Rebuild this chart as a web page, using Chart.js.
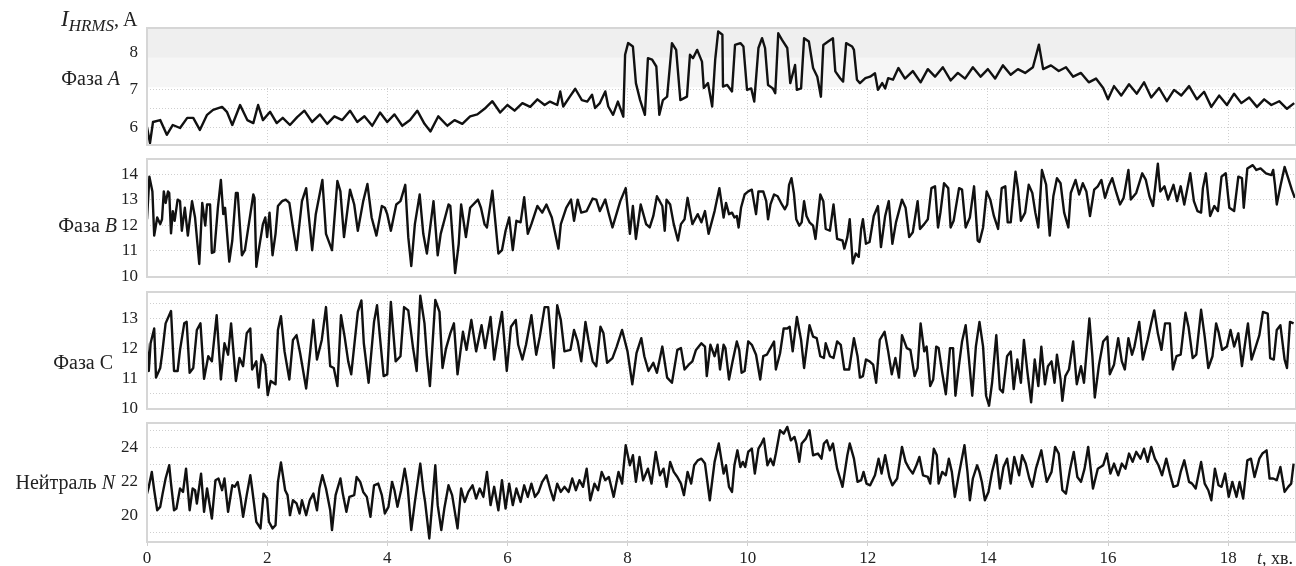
<!DOCTYPE html>
<html>
<head>
<meta charset="utf-8">
<script src="https://cdn.jsdelivr.net/npm/chart.js@4"></script>
<style>
  body { margin: 0; background: #fff; width: 1296px; height: 566px; overflow: hidden; position: relative; font-family: "Liberation Serif", serif; color: #222; }
  canvas { position: absolute; left: 0; }
  .lbl { position: absolute; font-size: 20px; line-height: 20px; white-space: nowrap; text-align: right; }
  i { font-style: italic; }
</style>
</head>
<body>
<canvas id="panelA" width="1296" height="137" style="top:18px"></canvas>
<canvas id="panelB" width="1296" height="138" style="top:149px"></canvas>
<canvas id="panelC" width="1296" height="137" style="top:282px"></canvas>
<canvas id="panelN" width="1296" height="154" style="top:413px"></canvas>

<div class="lbl" style="left:61px;top:9px;text-align:left;font-size:20px"><i style="font-size:23px">I</i><sub style="font-size:17px"><i>HRMS</i></sub>, A</div>
<div class="lbl" style="right:1176px;top:68px">Фаза <i>A</i></div>
<div class="lbl" style="right:1179px;top:215px">Фаза <i>B</i></div>
<div class="lbl" style="right:1183px;top:352px">Фаза С</div>
<div class="lbl" style="right:1181px;top:472px">Нейтраль <i>N</i></div>
<div class="lbl" style="left:1257px;top:548px;text-align:left;font-size:18px"><i>t</i>, хв.</div>

<script>
// time, min
const xTicks = [0, 2, 4, 6, 8, 10, 12, 14, 16, 18];

// Фаза A
const tA = [0,0.05,0.10,0.22,0.33,0.43,0.55,0.67,0.77,0.88,1.0,1.10,1.25,1.33,1.42,1.55,1.67,1.77,1.85,1.93,2.05,2.16,2.26,2.38,2.50,2.62,2.75,2.88,3.0,3.12,3.25,3.38,3.5,3.62,3.75,3.88,4.0,4.12,4.25,4.38,4.5,4.62,4.72,4.85,5.0,5.12,5.25,5.38,5.5,5.62,5.75,5.88,6.0,6.12,6.25,6.38,6.5,6.62,6.71,6.83,6.88,6.93,7.04,7.13,7.24,7.33,7.41,7.46,7.54,7.63,7.68,7.76,7.84,7.93,7.96,8.01,8.09,8.14,8.21,8.29,8.34,8.41,8.48,8.53,8.59,8.66,8.74,8.81,8.88,8.99,9.04,9.09,9.16,9.24,9.27,9.34,9.41,9.46,9.51,9.58,9.59,9.66,9.74,9.79,9.88,9.93,9.99,10.06,10.11,10.18,10.24,10.29,10.34,10.42,10.46,10.51,10.57,10.66,10.71,10.79,10.82,10.89,10.94,11.02,11.09,11.16,11.22,11.26,11.34,11.42,11.46,11.54,11.59,11.64,11.74,11.77,11.82,11.87,11.96,12.04,12.12,12.17,12.24,12.29,12.34,12.42,12.51,12.62,12.75,12.88,13.0,13.12,13.25,13.38,13.5,13.62,13.75,13.88,14.0,14.12,14.25,14.38,14.5,14.62,14.75,14.85,14.92,15.05,15.18,15.3,15.42,15.55,15.68,15.8,15.92,16.0,16.1,16.22,16.35,16.48,16.6,16.72,16.85,16.98,17.1,17.22,17.35,17.48,17.6,17.72,17.85,17.98,18.1,18.22,18.35,18.48,18.6,18.72,18.85,18.98,19.1];
const vA = [6.02,5.59,6.15,6.20,5.81,6.07,5.99,6.26,6.26,5.94,6.34,6.47,6.55,6.42,6.07,6.60,6.20,6.12,6.60,6.20,6.42,6.12,6.26,6.07,6.28,6.45,6.15,6.35,6.10,6.30,6.20,6.45,6.15,6.30,6.05,6.40,6.15,6.35,6.05,6.20,6.45,6.10,5.90,6.30,6.05,6.20,6.10,6.30,6.35,6.50,6.70,6.40,6.60,6.45,6.65,6.55,6.75,6.60,6.69,6.60,6.96,6.56,6.82,7.03,6.73,6.69,6.87,6.52,6.65,6.96,6.56,6.34,6.69,6.29,7.93,8.24,8.15,7.18,6.73,6.34,7.84,7.80,7.62,6.34,6.73,6.82,8.24,8.06,6.73,6.82,7.93,7.84,8.06,7.75,7.05,7.18,6.56,7.80,8.55,8.46,7.09,7.13,6.96,8.19,8.24,8.15,7.00,7.04,6.69,8.11,8.37,8.11,7.13,7.04,6.91,8.50,8.33,8.11,7.18,7.66,7.00,7.04,8.37,8.28,7.58,7.35,6.82,8.19,8.28,8.37,7.49,7.31,7.22,8.24,8.15,8.06,7.27,7.18,7.31,7.35,7.44,7.00,7.18,7.04,7.31,7.27,7.58,7.30,7.50,7.20,7.55,7.35,7.60,7.25,7.45,7.30,7.60,7.35,7.55,7.30,7.65,7.40,7.55,7.45,7.60,8.20,7.55,7.65,7.50,7.60,7.35,7.45,7.20,7.30,7.05,6.75,7.10,6.85,7.15,6.90,7.20,6.80,7.05,6.70,7.00,6.85,7.10,6.75,6.95,6.55,6.85,6.60,6.90,6.65,6.80,6.55,6.75,6.60,6.70,6.50,6.65];

// Фаза B
const tB = [0,0.04,0.09,0.12,0.17,0.22,0.25,0.28,0.31,0.35,0.37,0.40,0.43,0.46,0.51,0.55,0.58,0.63,0.68,0.75,0.80,0.87,0.92,0.97,1.00,1.05,1.08,1.12,1.18,1.23,1.27,1.30,1.37,1.42,1.48,1.51,1.58,1.63,1.77,1.79,1.82,1.86,1.93,1.97,2.00,2.04,2.09,2.14,2.18,2.25,2.31,2.37,2.43,2.49,2.58,2.65,2.68,2.75,2.81,2.92,2.98,3.08,3.17,3.22,3.28,3.38,3.45,3.51,3.60,3.67,3.74,3.82,3.91,3.96,4.00,4.06,4.15,4.22,4.30,4.35,4.40,4.46,4.54,4.60,4.66,4.77,4.84,4.89,5.02,5.05,5.13,5.19,5.23,5.31,5.38,5.51,5.56,5.62,5.66,5.75,5.85,5.91,5.97,6.03,6.09,6.15,6.22,6.28,6.34,6.40,6.50,6.58,6.65,6.74,6.85,6.89,6.98,7.06,7.11,7.17,7.23,7.32,7.42,7.48,7.54,7.63,7.69,7.75,7.88,7.97,8.04,8.09,8.14,8.22,8.31,8.37,8.43,8.49,8.58,8.62,8.65,8.71,8.77,8.84,8.89,8.95,9.00,9.08,9.17,9.23,9.29,9.35,9.45,9.53,9.60,9.64,9.69,9.74,9.78,9.82,9.85,9.89,9.95,10.01,10.07,10.14,10.18,10.26,10.31,10.34,10.38,10.44,10.50,10.57,10.62,10.66,10.69,10.73,10.77,10.81,10.86,10.90,10.94,10.98,11.03,11.09,11.13,11.21,11.26,11.30,11.37,11.43,11.49,11.58,11.61,11.66,11.70,11.75,11.80,11.85,11.89,11.92,11.97,12.03,12.10,12.17,12.22,12.29,12.35,12.41,12.47,12.57,12.63,12.69,12.75,12.83,12.87,12.94,13.00,13.06,13.12,13.17,13.21,13.27,13.34,13.38,13.43,13.52,13.57,13.63,13.70,13.77,13.83,13.86,13.92,13.98,14.04,14.10,14.17,14.23,14.29,14.33,14.38,14.46,14.50,14.55,14.62,14.68,14.74,14.79,14.84,14.90,14.97,15.03,15.09,15.15,15.21,15.27,15.34,15.38,15.46,15.52,15.58,15.64,15.70,15.77,15.83,15.89,15.95,16.01,16.07,16.14,16.20,16.26,16.34,16.38,16.47,16.57,16.63,16.69,16.75,16.83,16.87,16.94,17.00,17.09,17.15,17.21,17.27,17.37,17.43,17.49,17.55,17.58,17.63,17.70,17.77,17.83,17.89,17.96,18.02,18.10,18.17,18.23,18.26,18.32,18.41,18.47,18.54,18.63,18.72,18.75,18.78,18.81,18.87,18.94,19.00,19.06,19.11];
const vB = [12.24,13.91,13.33,11.60,12.31,12.05,12.24,13.33,12.88,13.33,13.27,11.69,12.56,12.18,13.01,12.95,11.79,12.69,11.60,12.95,12.31,10.49,12.88,11.99,12.82,12.82,10.92,10.96,12.69,13.78,12.44,12.69,10.58,11.41,13.27,13.27,10.83,11.03,13.21,13.08,10.38,11.03,12.05,12.31,11.54,12.50,10.83,11.67,12.76,12.95,13.01,12.88,11.92,11.03,12.95,13.46,12.69,11.03,12.44,13.78,11.67,11.03,13.74,13.33,11.54,13.40,12.82,11.79,12.95,13.62,12.31,11.60,12.76,12.69,12.44,11.79,12.82,12.95,13.59,11.54,10.41,12.05,13.21,11.67,10.90,12.95,10.83,11.67,12.82,12.76,10.13,11.28,12.82,11.54,12.69,13.01,12.69,12.05,11.92,13.36,10.90,11.03,11.79,12.31,11.03,12.18,12.12,13.10,11.67,12.05,12.76,12.50,12.82,12.31,11.09,12.05,12.69,13.01,12.18,13.01,12.50,12.56,13.05,13.01,12.56,13.01,12.44,11.92,12.95,13.46,11.67,12.76,11.47,12.82,12.05,11.92,12.37,13.14,12.76,11.79,13.01,12.82,12.05,11.41,12.05,12.24,13.08,12.05,12.44,12.12,12.56,11.67,12.56,13.46,12.31,12.88,12.44,12.50,12.31,12.37,11.92,12.69,13.21,13.33,13.40,12.44,13.33,13.33,12.95,12.24,12.82,13.21,13.14,12.82,12.63,12.82,13.59,13.85,13.27,12.24,11.99,12.12,12.95,12.37,12.12,11.99,11.47,13.21,12.95,11.86,11.79,12.82,11.47,11.41,11.09,11.54,12.24,10.51,10.90,10.77,11.86,12.24,11.28,11.35,12.37,12.76,11.15,12.37,12.95,11.28,12.12,13.01,12.69,11.54,11.73,12.95,11.86,12.05,12.24,13.46,13.53,11.92,12.50,13.65,13.46,11.92,12.18,13.46,13.40,11.92,12.31,13.53,11.41,11.35,11.92,13.33,13.01,12.37,11.86,13.46,13.53,12.12,12.12,14.10,13.46,12.18,12.50,13.59,13.27,12.50,11.92,14.17,13.59,11.60,13.14,13.85,13.65,12.50,11.92,13.27,13.78,13.21,13.65,13.33,12.37,13.40,13.53,13.78,13.08,13.53,13.85,13.27,12.82,13.08,14.17,13.01,13.27,14.04,13.78,13.14,12.76,14.42,13.33,13.53,13.01,13.59,12.95,13.53,12.82,14.04,12.95,12.56,12.50,13.46,14.04,12.37,12.76,12.56,13.91,14.04,12.69,12.56,13.91,13.85,12.69,14.23,14.36,14.17,14.23,14.04,13.97,14.17,13.59,12.82,13.53,14.29,13.85,13.40,13.08];

// Фаза C
const tC = [0,0.03,0.06,0.12,0.15,0.22,0.25,0.31,0.40,0.45,0.51,0.55,0.62,0.66,0.71,0.77,0.83,0.89,0.95,1.02,1.08,1.16,1.23,1.29,1.35,1.40,1.48,1.54,1.60,1.66,1.72,1.75,1.82,1.86,1.91,1.97,2.01,2.06,2.14,2.18,2.23,2.29,2.37,2.43,2.49,2.55,2.65,2.72,2.77,2.83,2.91,2.98,3.05,3.11,3.17,3.23,3.29,3.35,3.40,3.51,3.57,3.61,3.69,3.78,3.83,3.88,3.94,4.00,4.06,4.14,4.22,4.28,4.35,4.43,4.49,4.55,4.62,4.66,4.71,4.80,4.87,4.92,4.98,5.05,5.11,5.17,5.26,5.32,5.40,5.48,5.57,5.63,5.72,5.78,5.85,5.91,5.99,6.06,6.14,6.18,6.25,6.31,6.40,6.48,6.54,6.62,6.68,6.77,6.83,6.89,6.95,7.05,7.11,7.17,7.23,7.30,7.35,7.42,7.48,7.55,7.60,7.66,7.75,7.82,7.91,8.00,8.08,8.15,8.23,8.28,8.35,8.43,8.49,8.58,8.66,8.74,8.83,8.89,8.95,9.02,9.08,9.14,9.23,9.29,9.32,9.38,9.45,9.50,9.54,9.60,9.63,9.69,9.75,9.82,9.86,9.90,9.95,10.01,10.07,10.14,10.21,10.26,10.32,10.38,10.44,10.47,10.54,10.60,10.66,10.70,10.75,10.82,10.89,10.94,11.03,11.09,11.15,11.21,11.27,11.30,11.37,11.43,11.49,11.55,11.61,11.69,11.77,11.83,11.87,11.92,11.97,12.03,12.09,12.14,12.20,12.28,12.34,12.40,12.46,12.52,12.57,12.65,12.71,12.78,12.83,12.88,12.94,12.98,13.04,13.09,13.14,13.18,13.24,13.30,13.37,13.42,13.46,13.52,13.57,13.63,13.68,13.74,13.80,13.86,13.92,13.97,14.02,14.07,14.14,14.20,14.25,14.32,14.38,14.43,14.49,14.55,14.60,14.66,14.72,14.78,14.84,14.89,14.95,15.00,15.06,15.11,15.15,15.21,15.24,15.29,15.35,15.42,15.48,15.55,15.60,15.69,15.74,15.78,15.85,15.92,15.99,16.03,16.10,16.17,16.23,16.28,16.34,16.40,16.44,16.52,16.58,16.66,16.72,16.77,16.83,16.89,16.95,17.03,17.08,17.14,17.21,17.29,17.34,17.41,17.47,17.55,17.61,17.67,17.74,17.80,17.84,17.90,17.98,18.04,18.10,18.17,18.23,18.29,18.33,18.39,18.46,18.52,18.58,18.66,18.70,18.76,18.81,18.87,18.94,18.98,19.03,19.09];
const vC = [12.18,11.26,12.18,12.67,11.04,11.36,11.80,12.84,13.25,11.26,11.26,11.96,12.84,12.89,11.20,11.36,12.62,12.84,11.00,11.75,11.58,13.11,10.98,12.18,11.80,12.84,10.93,11.69,11.42,12.51,12.67,11.31,11.58,10.71,11.80,11.47,10.46,10.93,10.82,12.62,13.08,11.91,10.98,12.29,12.45,11.85,10.68,11.96,12.95,11.64,12.29,13.38,11.42,11.36,10.76,13.11,12.40,11.58,11.15,13.22,13.60,12.18,10.87,12.89,13.44,12.35,11.09,11.15,13.55,11.58,11.75,13.38,13.27,12.02,11.26,13.76,12.84,11.75,10.76,13.62,13.22,11.36,12.02,12.51,12.84,11.15,12.56,11.96,12.95,11.91,12.78,12.02,13.05,11.64,12.56,13.22,11.26,12.73,12.95,12.13,11.64,12.13,13.11,11.80,12.40,13.38,13.38,11.36,13.44,12.95,11.91,11.96,12.62,12.24,11.58,12.89,12.29,11.58,11.42,12.73,12.51,11.53,11.69,12.07,12.62,11.91,10.82,11.85,12.35,11.75,11.26,11.53,11.20,12.07,11.04,10.87,11.96,12.02,11.31,11.47,11.58,11.96,12.18,12.07,11.09,12.13,11.75,12.13,11.31,12.13,12.02,10.98,11.58,12.24,11.96,11.20,11.26,12.24,12.13,11.80,10.98,11.75,11.80,12.02,12.24,11.31,11.85,12.67,12.67,12.73,11.91,13.05,12.29,11.36,12.78,12.40,12.35,11.75,11.69,12.18,11.75,11.69,12.24,12.13,11.31,11.31,12.35,11.75,11.04,11.09,11.64,11.58,11.47,10.87,12.29,12.56,11.91,11.15,11.69,11.04,12.45,12.02,11.96,11.09,11.36,12.84,11.91,12.07,10.76,10.98,12.07,12.02,11.20,10.49,12.02,12.02,10.44,11.47,12.24,12.78,11.75,10.44,12.07,12.89,12.07,10.44,10.11,10.87,12.45,10.66,10.55,11.75,11.91,10.66,11.64,10.87,12.29,11.20,10.22,11.64,10.76,12.07,10.82,11.42,11.58,10.87,11.80,10.98,10.27,11.09,11.31,12.24,10.82,11.42,10.87,13.00,11.75,10.38,11.47,12.24,12.40,11.15,11.47,12.35,11.58,11.31,12.35,11.80,12.07,12.89,11.64,12.29,12.84,13.27,12.51,11.96,12.84,12.84,11.31,11.75,11.80,13.19,12.73,11.69,11.80,13.29,12.40,11.36,11.75,12.84,12.56,11.96,12.07,12.62,12.07,12.51,11.42,12.29,12.84,11.64,12.07,12.45,13.22,13.16,11.69,11.64,12.62,12.78,11.64,11.36,12.89,12.84];

// Нейтраль N
const tN = [0,0.03,0.08,0.12,0.17,0.22,0.26,0.31,0.37,0.40,0.45,0.49,0.55,0.60,0.65,0.71,0.76,0.80,0.83,0.90,0.95,1.00,1.08,1.14,1.19,1.25,1.29,1.35,1.42,1.46,1.51,1.56,1.60,1.66,1.72,1.75,1.82,1.89,1.94,2.00,2.03,2.09,2.14,2.18,2.23,2.30,2.34,2.38,2.43,2.49,2.54,2.58,2.65,2.71,2.77,2.83,2.87,2.92,2.98,3.05,3.08,3.14,3.22,3.26,3.32,3.37,3.45,3.49,3.55,3.60,3.66,3.72,3.78,3.85,3.91,3.96,4.02,4.08,4.12,4.17,4.23,4.29,4.34,4.40,4.46,4.55,4.60,4.63,4.70,4.74,4.80,4.84,4.90,4.95,5.02,5.08,5.17,5.23,5.29,5.35,5.42,5.48,5.54,5.60,5.66,5.72,5.78,5.85,5.91,5.97,6.03,6.09,6.15,6.22,6.28,6.34,6.40,6.46,6.52,6.58,6.65,6.71,6.77,6.83,6.89,6.95,7.02,7.08,7.14,7.20,7.26,7.32,7.38,7.45,7.51,7.57,7.63,7.69,7.77,7.85,7.91,7.97,8.04,8.09,8.14,8.20,8.26,8.34,8.40,8.47,8.54,8.60,8.65,8.71,8.77,8.83,8.89,8.94,9.00,9.06,9.11,9.17,9.23,9.29,9.37,9.45,9.52,9.60,9.64,9.69,9.74,9.78,9.83,9.88,9.92,9.96,10.01,10.07,10.12,10.18,10.23,10.27,10.33,10.38,10.43,10.47,10.54,10.60,10.66,10.72,10.78,10.81,10.86,10.90,10.97,11.03,11.09,11.17,11.23,11.27,11.32,11.37,11.42,11.49,11.58,11.66,11.70,11.77,11.83,11.89,11.93,11.98,12.04,12.12,12.18,12.23,12.29,12.36,12.41,12.49,12.57,12.63,12.69,12.75,12.81,12.86,12.92,13.00,13.04,13.10,13.15,13.18,13.24,13.30,13.35,13.40,13.45,13.52,13.61,13.66,13.70,13.75,13.82,13.86,13.90,13.95,14.01,14.07,14.14,14.20,14.26,14.32,14.38,14.44,14.52,14.57,14.63,14.69,14.74,14.80,14.89,14.95,14.98,15.06,15.12,15.18,15.24,15.30,15.37,15.43,15.49,15.55,15.61,15.67,15.75,15.83,15.92,15.98,16.04,16.10,16.17,16.23,16.29,16.35,16.41,16.47,16.54,16.60,16.66,16.72,16.78,16.84,16.90,16.97,17.03,17.09,17.16,17.21,17.27,17.35,17.40,17.46,17.55,17.61,17.67,17.72,17.78,17.84,17.89,17.95,18.01,18.07,18.14,18.19,18.25,18.32,18.38,18.44,18.52,18.57,18.64,18.69,18.75,18.81,18.87,18.94,19.00,19.05,19.09];
const vN = [21.29,21.69,22.57,21.49,20.31,20.51,21.29,22.18,22.96,21.88,20.31,20.41,21.59,21.39,22.76,20.31,21.59,21.49,20.71,22.47,20.22,21.59,19.82,22.08,22.18,21.49,22.18,20.22,21.78,21.69,21.98,21.00,19.92,21.20,22.37,21.59,19.63,19.24,21.29,21.00,19.63,19.24,19.43,21.98,23.12,21.49,21.20,20.02,20.90,20.71,20.12,20.90,20.02,20.90,21.29,20.31,21.59,22.37,21.59,20.31,19.14,21.20,22.18,21.29,20.22,21.10,21.20,22.27,21.98,21.39,21.10,19.92,21.78,21.88,21.20,20.12,20.51,21.98,21.49,20.51,21.49,22.76,21.69,19.14,20.80,23.06,21.49,20.80,18.65,20.31,22.96,20.61,19.14,20.41,21.78,21.20,19.24,21.59,20.80,21.39,21.78,21.00,21.59,21.10,22.57,20.61,21.69,20.31,22.08,20.41,21.88,20.61,21.59,20.80,21.78,21.10,21.88,21.10,21.39,21.98,22.37,21.59,20.90,21.88,21.39,21.69,21.39,22.18,21.49,22.08,21.69,22.76,20.90,21.88,21.49,22.57,22.08,22.27,21.10,22.57,21.88,24.14,22.96,23.55,21.98,23.45,22.08,22.76,21.88,23.75,22.37,22.76,21.69,23.16,22.57,22.27,21.88,21.20,22.57,21.88,22.96,23.25,23.35,23.06,20.90,23.16,24.24,22.47,22.96,21.69,21.39,22.96,23.84,22.86,23.16,22.86,23.75,23.94,22.47,23.94,24.24,24.53,22.96,23.35,22.96,23.65,25.02,24.82,25.22,24.43,24.63,24.24,23.16,24.24,24.53,25.02,23.55,23.65,23.35,24.24,24.43,23.84,24.24,22.76,21.69,23.55,24.24,23.35,21.98,22.08,22.57,21.88,21.78,22.37,23.35,22.47,23.55,22.27,21.78,22.18,24.04,23.16,22.76,22.47,22.96,23.45,22.37,22.27,21.88,23.94,23.55,21.88,22.57,22.37,23.35,22.57,21.10,22.47,24.14,22.57,20.90,22.18,22.96,22.57,21.98,20.90,21.39,22.57,23.55,21.59,22.86,23.35,21.88,23.45,22.37,23.55,23.06,22.18,21.69,22.76,23.84,22.57,21.98,22.57,24.04,23.65,21.49,21.29,22.76,23.75,22.27,21.98,22.76,24.04,21.59,22.76,22.96,23.65,22.47,23.06,22.37,23.06,22.76,23.65,23.16,23.75,23.35,23.94,23.16,24.04,23.35,22.96,22.37,23.35,22.47,21.69,21.78,22.57,23.25,21.98,21.88,21.59,23.16,21.88,21.49,20.90,22.76,21.78,21.69,22.47,21.10,21.98,21.10,21.98,21.00,23.25,23.35,22.27,23.35,23.65,23.84,22.18,22.18,22.08,22.86,21.39,21.69,21.88,23.06];

// y axes: grid values and labelled values
const gridA = [6, 6.5, 7, 7.5, 8, 8.5];
const labelsA = [6, 7, 8];
const gridB = [10, 11, 12, 13, 14];
const labelsB = [10, 11, 12, 13, 14];
const gridC = [10, 10.5, 11, 11.5, 12, 12.5, 13, 13.5];
const labelsC = [10, 11, 12, 13];
const gridN = [19, 20, 21, 22, 23, 24, 25];
const labelsN = [20, 22, 24];

// shaded levels on phase A
const bandsA = [[7.07, 7.85, "#f6f6f6"], [7.85, 9, "#efefef"]];

const gridColor = "#cfcfcf";

const framePlugin = {
  id: "frame",
  beforeDatasetsDraw(chart, args, opts) {
    const a = chart.chartArea;
    const y = chart.scales.y;
    const ctx = chart.ctx;
    ctx.save();
    (opts.bands || []).forEach((b) => {
      const top = Math.max(y.getPixelForValue(b[1]), a.top);
      const bot = Math.min(y.getPixelForValue(b[0]), a.bottom);
      ctx.fillStyle = b[2];
      ctx.fillRect(a.left, top, a.right - a.left, bot - top);
    });
    ctx.restore();
  },
  afterDraw(chart) {
    const a = chart.chartArea;
    const ctx = chart.ctx;
    ctx.save();
    ctx.strokeStyle = "#d6d6d6";
    ctx.lineWidth = 2;
    ctx.strokeRect(a.left, a.top, a.right - a.left, a.bottom - a.top);
    ctx.restore();
  },
};

function makePanel(id, times, values, yMin, yMax, grid, labels, showX, bands) {
  const pts = times.map((t, i) => ({ x: t, y: values[i] }));
  new Chart(document.getElementById(id), {
    type: "line",
    data: {
      datasets: [
        {
          data: pts,
          borderColor: "#111",
          borderWidth: 2.4,
          borderJoinStyle: "round",
          pointRadius: 0,
          tension: 0,
          fill: false,
        },
      ],
    },
    options: {
      responsive: false,
      animation: false,
      layout: { padding: { top: 10, bottom: showX ? 0 : 10, left: 0, right: 0 } },
      plugins: { legend: { display: false }, tooltip: { enabled: false }, frame: { bands: bands } },
      scales: {
        x: {
          type: "linear",
          min: 0,
          max: 19.13,
          afterBuildTicks: (s) => { s.ticks = xTicks.map((v) => ({ value: v })); },
          afterFit: (s) => {
            s.height = showX ? 25 : 0;
            s.paddingLeft = 0;
            s.paddingRight = 0;
          },
          grid: { color: gridColor, drawTicks: showX, tickLength: 4 },
          border: { display: false, dash: [1, 2] },
          ticks: {
            display: showX,
            autoSkip: false,
            maxRotation: 0,
            padding: 2,
            color: "#222",
            font: { family: "Liberation Serif", size: 17 },
          },
        },
        y: {
          min: yMin,
          max: yMax,
          afterBuildTicks: (s) => { s.ticks = grid.map((v) => ({ value: v })); },
          afterFit: (s) => {
            s.width = 147;
            s.paddingTop = 0;
            s.paddingBottom = 0;
          },
          grid: { color: gridColor, drawTicks: false },
          border: { display: false, dash: [1, 2] },
          ticks: {
            autoSkip: false,
            padding: 9,
            color: "#222",
            font: { family: "Liberation Serif", size: 17 },
            callback: (v) => (labels.includes(v) ? String(v) : ""),
          },
        },
      },
    },
    plugins: [framePlugin],
  });
}

makePanel("panelA", tA, vA, 5.54, 8.64, gridA, labelsA, false, bandsA);
makePanel("panelB", tB, vB, 9.98, 14.6, gridB, labelsB, false, []);
makePanel("panelC", tC, vC, 10, 13.88, gridC, labelsC, false, []);
makePanel("panelN", tN, vN, 18.44, 25.45, gridN, labelsN, true, []);
</script>
</body>
</html>
